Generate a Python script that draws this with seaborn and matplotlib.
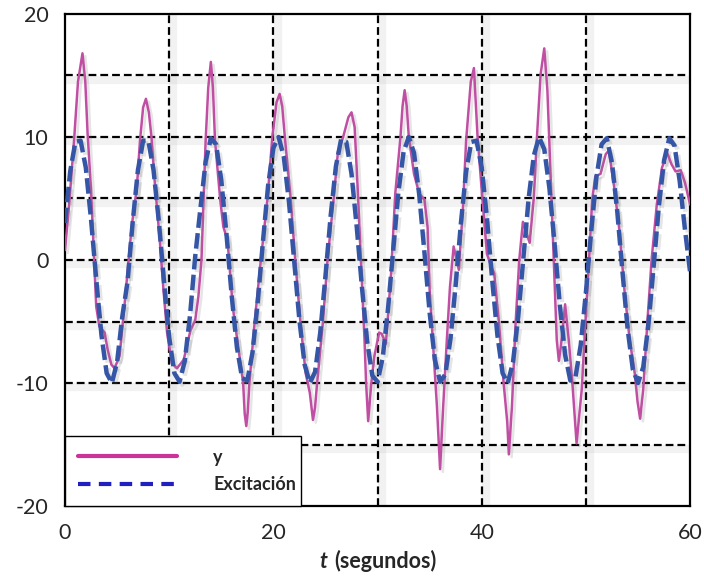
import numpy as np
import pandas as pd
import seaborn as sns
import matplotlib
matplotlib.use('Agg')
import matplotlib.pyplot as plt
import matplotlib.patheffects as pe
from matplotlib.lines import Line2D
from matplotlib.transforms import ScaledTranslation

# Excitación, leída cada 0.5 s
t_exc = np.arange(0, 60.5, 0.5)
excitacion = [
    3.0, 7.2, 9.6, 9.7, 7.5, 3.3, -1.6, -6.1, -9.2, -10.0, -8.3, -4.6,
    -1.8, 3.1, 7.3, 9.7, 9.7, 7.3, 3.2, -1.7, -6.3, -9.2, -9.9, -8.2, -4.5, 0.3,
    4.2, 8.0, 9.9, 9.4, 6.5, 2.1, -2.9, -7.1, -9.6, -9.8, -7.5, -3.4,
    1.5, 6.1, 9.1, 10.0, 8.4, 4.7, -0.1, -4.9, -8.5, -10.0, -9.1, -5.9, -1.3,
    3.6, 7.6, 9.8, 9.6, 7.0, 2.7, -2.2, -6.6, -9.4, -9.9, -7.9, -4.0,
    0.8, 5.5, 8.8, 10.0, 8.7, 5.3, 0.6, -4.3, -8.1, -9.9, -9.3, -6.4, -2.0,
    3.0, 7.2, 9.6, 9.7, 7.5, 3.4, -1.6, -6.1, -9.2, -10.0, -8.3, -4.6,
    0.2, 5.0, 8.5, 10.0, 9.0, 5.8, 1.2, -3.7, -7.7, -9.8, -9.5, -6.9, -2.6,
    2.3, 6.7, 9.4, 9.9, 7.9, 4.0, -0.9, -5.6, -8.9, -10.0, -8.7, -5.2,
    -0.5, 4.4, 8.1, 9.9, 9.3, 6.4, 2.5, -1.0,
]

# Respuesta y, puntos
t_y = [
    0.0, 0.4, 0.87, 1.25, 1.68, 1.95, 2.17, 2.5, 2.8, 3.0, 3.3, 3.8, 4.1, 4.45, 4.76,
    5.24, 5.7, 6.4, 6.9, 7.2, 7.5, 7.77, 8.05, 8.3, 8.6, 9.1, 9.45, 9.8, 10.26, 10.75,
    11.4, 12.05, 12.5, 12.8, 13.1, 13.5, 13.75, 14.0, 14.2, 14.4, 14.9, 15.2, 15.6,
    16.1, 16.75, 17.1, 17.25, 17.4, 17.55, 17.7, 18.2, 18.8, 19.45, 19.9, 20.3, 20.6,
    20.85, 21.1, 21.65, 22.1, 22.6, 23.1, 23.5, 23.8, 24.0, 24.2, 24.75, 25.2, 25.8,
    26.2, 26.7, 27.2, 27.5, 27.8, 28.1, 28.4, 28.75, 28.9, 29.1, 29.4, 29.7, 30.15,
    30.4, 30.8, 31.3, 31.7, 32.2, 32.4, 32.6, 32.8, 33.0, 33.5, 34.0, 34.5, 34.8,
    35.0, 35.4, 35.7, 36.0, 36.3, 36.65, 36.95, 37.3, 37.8, 38.2, 38.5, 38.95, 39.25,
    39.6, 40.05, 40.5, 40.9, 41.2, 41.65, 42.1, 42.45, 42.6, 42.9, 43.25, 43.6, 43.95,
    44.6, 45.0, 45.3, 45.65, 46.0, 46.3, 46.6, 46.9, 47.2, 47.4, 47.6, 48.0, 48.35,
    48.7, 49.1, 49.6, 49.95, 50.3, 50.6, 50.9, 51.4, 51.9, 52.2, 52.7, 53.2, 53.7,
    54.2, 54.7, 54.95, 55.2, 55.5, 55.9, 56.3, 56.8, 57.3, 57.8, 58.2, 58.6, 59.1,
    59.5, 60.0,
]
y_vals = [
    0.8, 4.5, 9.7, 14.5, 16.8, 14.5, 10.3, 5.7, 0.0, -3.8, -5.4, -5.9, -7.3, -8.5, -8.8,
    -7.8, -3.8, 2.7, 5.9, 9.7, 12.4, 13.1, 12.0, 10.0, 6.5, 1.6, -2.4, -5.9, -8.4, -8.8,
    -8.1, -5.7, -4.9, -3.0, 0.0, 9.7, 14.0, 16.1, 14.0, 9.7, 4.9, 2.7, 1.6,
    -3.8, -7.8, -10.0, -12.5, -13.5, -12.3, -10.0, -5.1, 0.0, 5.1, 10.0, 12.8, 13.5,
    12.5, 10.0, 5.1, 0.0, -5.1, -9.2, -10.8, -13.0, -12.0, -10.0, -5.1, 0.0, 5.1,
    8.8, 10.0, 11.6, 12.0, 10.8, 5.7, 0.0, -6.5, -10.0, -13.1, -10.0, -7.8, -5.9,
    -6.0, -6.8, -1.1, 5.4, 10.0, 12.5, 13.8, 12.5, 10.0, 7.0, 5.4, 4.9, 2.7,
    -2.4, -7.8, -11.9, -17.0, -11.9, -6.5, -2.2, 1.1, -0.8, 4.3, 9.7, 14.5, 15.6,
    10.0, 5.1, 0.5, -0.5, -1.1, -5.1, -10.0, -13.2, -15.8, -11.9, -5.1, 0.0, 3.1,
    1.4, 5.1, 10.0, 15.1, 17.2, 13.8, 7.0, 0.0, -6.5, -8.2, -7.0, -3.6, -6.5,
    -10.0, -14.9, -10.5, -5.1, 0.0, 4.9, 6.8, 7.0, 8.6, 8.9, 6.0, 2.5, -2.5,
    -6.5, -9.3, -11.5, -12.9, -10.5, -5.0, 0.0, 4.5, 7.5, 8.7, 7.8, 7.2, 7.3,
    6.3, 4.5,
]

grid_x = [10, 20, 30, 40, 50]
grid_y = [-15, -10, -5, 0, 5, 10, 15]

df_exc = pd.DataFrame({'t': t_exc, 'valor': excitacion})
df_y = pd.DataFrame({'t': t_y, 'valor': y_vals})

sns.set_style('white')
plt.rcParams['font.family'] = ['Lato', 'DejaVu Sans']
plt.rcParams['axes.unicode_minus'] = False

fig = plt.figure(figsize=(7.04, 5.81), dpi=100)
ax = fig.add_axes([0.0923, 0.129, 0.888, 0.847])

# sombra de la cuadrícula
sombra_h = ax.get_yaxis_transform() + ScaledTranslation(1 / 72, -3 / 72, fig.dpi_scale_trans)
sombra_v = ax.get_xaxis_transform() + ScaledTranslation(3 / 72, -1 / 72, fig.dpi_scale_trans)
for gy in grid_y:
    ax.plot([0, 1], [gy, gy], color='0.6', lw=6, alpha=0.12, transform=sombra_h, zorder=1)
    ax.axhline(gy, color='black', lw=1.6, ls=(0, (3.5, 1.8)), zorder=2)
for gx in grid_x:
    ax.plot([gx, gx], [0, 1], color='0.6', lw=6, alpha=0.12, transform=sombra_v, zorder=1)
    ax.axvline(gx, color='black', lw=1.6, ls=(0, (3.5, 1.8)), zorder=2)

sombra = [pe.SimpleLineShadow(offset=(2, -2), shadow_color='0.5', alpha=0.2), pe.Normal()]
sns.lineplot(data=df_y, x='t', y='valor', ax=ax, color='#C04FA3', lw=1.8,
             path_effects=sombra, zorder=3)
sns.lineplot(data=df_exc, x='t', y='valor', ax=ax, color='#3556A6', lw=3.2,
             ls=(0, (3.5, 1.2)), path_effects=sombra, zorder=4)

ax.set_xlim(0, 60)
ax.set_ylim(-20, 20)
ax.set_xticks([0, 20, 40, 60])
ax.set_yticks([-20, -10, 0, 10, 20])
ax.tick_params(length=0, labelsize=15.5, pad=12)
ax.set_ylabel('')
ax.set_xlabel('')
fig.text(0.547, 0.015, '(segundos)', fontsize=15.5, fontweight='bold', ha='center', va='bottom')
fig.text(0.459, 0.015, 't', fontsize=15.5, fontweight='bold', fontstyle='italic', ha='center', va='bottom')
for s in ax.spines.values():
    s.set_visible(True)
    s.set_color('black')
    s.set_linewidth(1.6)

handles = [Line2D([], [], color='#CC3399', lw=3),
           Line2D([], [], color='#2020C0', lw=3, ls=(0, (3, 2)))]
leg = ax.legend(handles, ['y', 'Excitación'], loc='lower left',
                bbox_to_anchor=(0, 0, 0.378, 0.14), mode='expand', borderaxespad=0,
                fancybox=False, framealpha=1, edgecolor='black', handlelength=5.5,
                handletextpad=2.0, borderpad=0.7, labelspacing=0.6,
                prop={'weight': 'bold', 'size': 13})
leg.get_frame().set_linewidth(1.0)
leg.set_zorder(10)

fig.savefig('out.png', dpi=100)
